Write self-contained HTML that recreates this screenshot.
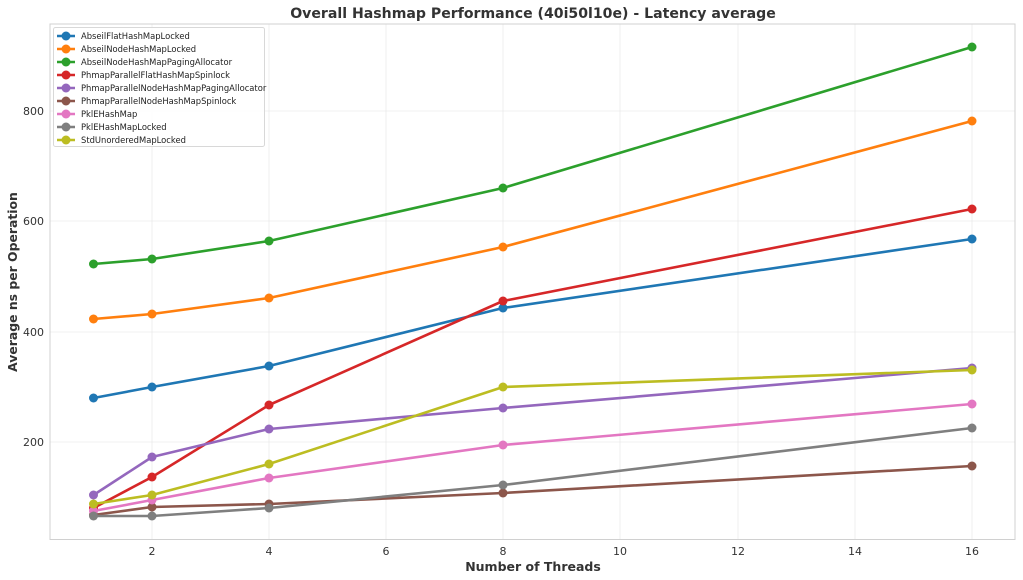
<!DOCTYPE html>
<html><head><meta charset="utf-8"><style>body{margin:0;background:#fff}svg{display:block;font-family:"DejaVu Sans","Liberation Sans",sans-serif}</style></head><body>
<svg width="1023" height="580" viewBox="0 0 1023 580">
<rect width="1023" height="580" fill="#fff"/>
<g stroke="#ebebeb" stroke-width="0.8">
<line x1="152" y1="24" x2="152" y2="539"/><line x1="269" y1="24" x2="269" y2="539"/><line x1="386" y1="24" x2="386" y2="539"/><line x1="503" y1="24" x2="503" y2="539"/><line x1="620" y1="24" x2="620" y2="539"/><line x1="738" y1="24" x2="738" y2="539"/><line x1="855" y1="24" x2="855" y2="539"/><line x1="972" y1="24" x2="972" y2="539"/>
<line x1="50" y1="111" x2="1015" y2="111"/><line x1="50" y1="221" x2="1015" y2="221"/><line x1="50" y1="332" x2="1015" y2="332"/><line x1="50" y1="442" x2="1015" y2="442"/>
</g>
<rect x="50" y="24" width="965" height="515.5" fill="none" stroke="#d0d0d0" stroke-width="1"/>
<g font-size="11" fill="#333" text-anchor="middle">
<text x="152" y="555">2</text><text x="269" y="555">4</text><text x="386" y="555">6</text><text x="503" y="555">8</text><text x="620" y="555">10</text><text x="738" y="555">12</text><text x="855" y="555">14</text><text x="972" y="555">16</text>
</g>
<g font-size="11" fill="#333" text-anchor="end">
<text x="44" y="115">800</text><text x="44" y="225">600</text><text x="44" y="336">400</text><text x="44" y="446">200</text>
</g>
<text x="533" y="571" font-size="12.5" font-weight="bold" fill="#333" text-anchor="middle">Number of Threads</text>
<text x="17" y="282" font-size="12.4" font-weight="bold" fill="#333" text-anchor="middle" transform="rotate(-90 17 282)">Average ns per Operation</text>
<text x="533" y="18" font-size="14.1" font-weight="bold" fill="#333" text-anchor="middle">Overall Hashmap Performance (40i50l10e) - Latency average</text>
<g fill="none" stroke-width="2.6" stroke-linejoin="round">
<polyline stroke="#1f77b4" points="93.5,398 152,387 269,366 503,308 972,239"/>
<polyline stroke="#ff7f0e" points="93.5,319 152,314 269,298 503,247 972,121"/>
<polyline stroke="#2ca02c" points="93.5,264 152,259 269,241 503,188 972,47"/>
<polyline stroke="#d62728" points="93.5,508 152,477 269,405 503,301 972,209"/>
<polyline stroke="#9467bd" points="93.5,495 152,457 269,429 503,408 972,368"/>
<polyline stroke="#8c564b" points="93.5,515 152,507 269,504 503,493 972,466"/>
<polyline stroke="#e377c2" points="93.5,511 152,500 269,478 503,445 972,404"/>
<polyline stroke="#7f7f7f" points="93.5,516 152,516 269,508 503,485 972,428"/>
<polyline stroke="#bcbd22" points="93.5,504 152,495 269,464 503,387 972,370"/>
</g>
<g stroke="none">
<g fill="#1f77b4"><circle cx="93.5" cy="398" r="4.5"/><circle cx="152" cy="387" r="4.5"/><circle cx="269" cy="366" r="4.5"/><circle cx="503" cy="308" r="4.5"/><circle cx="972" cy="239" r="4.5"/></g>
<g fill="#ff7f0e"><circle cx="93.5" cy="319" r="4.5"/><circle cx="152" cy="314" r="4.5"/><circle cx="269" cy="298" r="4.5"/><circle cx="503" cy="247" r="4.5"/><circle cx="972" cy="121" r="4.5"/></g>
<g fill="#2ca02c"><circle cx="93.5" cy="264" r="4.5"/><circle cx="152" cy="259" r="4.5"/><circle cx="269" cy="241" r="4.5"/><circle cx="503" cy="188" r="4.5"/><circle cx="972" cy="47" r="4.5"/></g>
<g fill="#d62728"><circle cx="93.5" cy="508" r="4.5"/><circle cx="152" cy="477" r="4.5"/><circle cx="269" cy="405" r="4.5"/><circle cx="503" cy="301" r="4.5"/><circle cx="972" cy="209" r="4.5"/></g>
<g fill="#9467bd"><circle cx="93.5" cy="495" r="4.5"/><circle cx="152" cy="457" r="4.5"/><circle cx="269" cy="429" r="4.5"/><circle cx="503" cy="408" r="4.5"/><circle cx="972" cy="368" r="4.5"/></g>
<g fill="#8c564b"><circle cx="93.5" cy="515" r="4.5"/><circle cx="152" cy="507" r="4.5"/><circle cx="269" cy="504" r="4.5"/><circle cx="503" cy="493" r="4.5"/><circle cx="972" cy="466" r="4.5"/></g>
<g fill="#e377c2"><circle cx="93.5" cy="511" r="4.5"/><circle cx="152" cy="500" r="4.5"/><circle cx="269" cy="478" r="4.5"/><circle cx="503" cy="445" r="4.5"/><circle cx="972" cy="404" r="4.5"/></g>
<g fill="#7f7f7f"><circle cx="93.5" cy="516" r="4.5"/><circle cx="152" cy="516" r="4.5"/><circle cx="269" cy="508" r="4.5"/><circle cx="503" cy="485" r="4.5"/><circle cx="972" cy="428" r="4.5"/></g>
<g fill="#bcbd22"><circle cx="93.5" cy="504" r="4.5"/><circle cx="152" cy="495" r="4.5"/><circle cx="269" cy="464" r="4.5"/><circle cx="503" cy="387" r="4.5"/><circle cx="972" cy="370" r="4.5"/></g>
</g>
<rect x="53.5" y="27.5" width="211" height="119" rx="2" fill="#fff" fill-opacity="0.9" stroke="#d8d8d8"/>
<g font-size="8.4" fill="#222">
<g transform="translate(0,36)"><line x1="57" x2="75" stroke="#1f77b4" stroke-width="2.6"/><circle cx="66" r="4.5" fill="#1f77b4"/><text x="81" y="3.1">AbseilFlatHashMapLocked</text></g>
<g transform="translate(0,49)"><line x1="57" x2="75" stroke="#ff7f0e" stroke-width="2.6"/><circle cx="66" r="4.5" fill="#ff7f0e"/><text x="81" y="3.1">AbseilNodeHashMapLocked</text></g>
<g transform="translate(0,62)"><line x1="57" x2="75" stroke="#2ca02c" stroke-width="2.6"/><circle cx="66" r="4.5" fill="#2ca02c"/><text x="81" y="3.1">AbseilNodeHashMapPagingAllocator</text></g>
<g transform="translate(0,75)"><line x1="57" x2="75" stroke="#d62728" stroke-width="2.6"/><circle cx="66" r="4.5" fill="#d62728"/><text x="81" y="3.1">PhmapParallelFlatHashMapSpinlock</text></g>
<g transform="translate(0,88)"><line x1="57" x2="75" stroke="#9467bd" stroke-width="2.6"/><circle cx="66" r="4.5" fill="#9467bd"/><text x="81" y="3.1">PhmapParallelNodeHashMapPagingAllocator</text></g>
<g transform="translate(0,101)"><line x1="57" x2="75" stroke="#8c564b" stroke-width="2.6"/><circle cx="66" r="4.5" fill="#8c564b"/><text x="81" y="3.1">PhmapParallelNodeHashMapSpinlock</text></g>
<g transform="translate(0,114)"><line x1="57" x2="75" stroke="#e377c2" stroke-width="2.6"/><circle cx="66" r="4.5" fill="#e377c2"/><text x="81" y="3.1">PklEHashMap</text></g>
<g transform="translate(0,127)"><line x1="57" x2="75" stroke="#7f7f7f" stroke-width="2.6"/><circle cx="66" r="4.5" fill="#7f7f7f"/><text x="81" y="3.1">PklEHashMapLocked</text></g>
<g transform="translate(0,140)"><line x1="57" x2="75" stroke="#bcbd22" stroke-width="2.6"/><circle cx="66" r="4.5" fill="#bcbd22"/><text x="81" y="3.1">StdUnorderedMapLocked</text></g>
</g>
</svg>
</body></html>
